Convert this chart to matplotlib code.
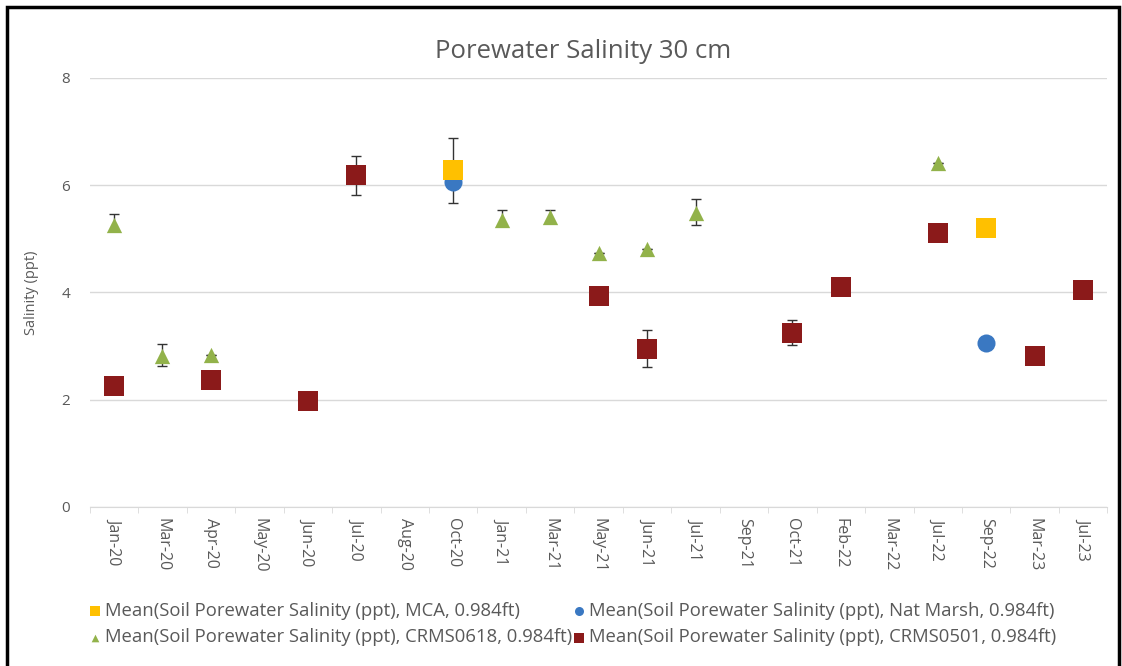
import matplotlib
matplotlib.use('Agg')
import numpy as np
import matplotlib.pyplot as plt
from matplotlib.patches import Rectangle

plt.rcParams['font.family'] = ['Open Sans', 'DejaVu Sans']

# Categories (x axis, treated as text)
months = ['Jan-20', 'Mar-20', 'Apr-20', 'May-20', 'Jun-20', 'Jul-20', 'Aug-20', 'Oct-20',
          'Jan-21', 'Mar-21', 'May-21', 'Jun-21', 'Jul-21', 'Sep-21', 'Oct-21', 'Feb-22',
          'Mar-22', 'Jul-22', 'Sep-22', 'Mar-23', 'Jul-23']

# Series values with error bar (low, high)
mca_months = ['Oct-20', 'Sep-22']
mca_vals = [6.29, 5.20]
mca_lo = [0.0, 0.0]
mca_hi = [0.59, 0.0]

nat_months = ['Oct-20', 'Sep-22']
nat_vals = [6.06, 3.06]
nat_lo = [0.39, 0.0]
nat_hi = [0.0, 0.0]

c618_months = ['Jan-20', 'Mar-20', 'Apr-20', 'Oct-20', 'Jan-21', 'Mar-21', 'May-21',
               'Jun-21', 'Jul-21', 'Jul-22']
c618_vals = [5.26, 2.82, 2.84, 6.2, 5.35, 5.41, 4.74, 4.80, 5.48, 6.42]
c618_lo = [0.1, 0.2, 0.0, 0.0, 0.1, 0.1, 0.0, 0.0, 0.22, 0.0]
c618_hi = [0.2, 0.22, 0.0, 0.0, 0.18, 0.12, 0.0, 0.0, 0.26, 0.0]

c501_months = ['Jan-20', 'Apr-20', 'Jun-20', 'Jul-20', 'May-21', 'Jun-21', 'Oct-21',
               'Feb-22', 'Jul-22', 'Mar-23', 'Jul-23']
c501_vals = [2.26, 2.37, 1.98, 6.18, 3.94, 2.95, 3.25, 4.10, 5.11, 2.82, 4.05]
c501_lo = [0.0, 0.0, 0.0, 0.36, 0.0, 0.34, 0.23, 0.0, 0.0, 0.0, 0.0]
c501_hi = [0.0, 0.0, 0.0, 0.37, 0.0, 0.35, 0.24, 0.0, 0.0, 0.0, 0.0]

labels = ['Mean(Soil Porewater Salinity (ppt), MCA, 0.984ft)',
          'Mean(Soil Porewater Salinity (ppt), Nat Marsh, 0.984ft)',
          'Mean(Soil Porewater Salinity (ppt), CRMS0618, 0.984ft)',
          'Mean(Soil Porewater Salinity (ppt), CRMS0501, 0.984ft)']

gray = '#595959'
fig = plt.figure(figsize=(11.22, 6.66), dpi=100)
ax = fig.add_axes([0.080, 0.239, 0.907, 0.644])

pos = {m: i for i, m in enumerate(months)}

series = [
    (c501_months, c501_vals, c501_lo, c501_hi, 's', '#8B1A1A', 14, labels[3]),
    (c618_months, c618_vals, c618_lo, c618_hi, '^', '#92B24A', 11, labels[2]),
    (nat_months, nat_vals, nat_lo, nat_hi, 'o', '#3A78C2', 13, labels[1]),
    (mca_months, mca_vals, mca_lo, mca_hi, 's', '#FFC000', 14, labels[0]),
]
handles = {}
for ms, vals, lo, hi, mk, col, size, lab in series:
    x = [pos[m] for m in ms]
    ax.errorbar(x, vals, yerr=[lo, hi], fmt='none', ecolor='#333333', elinewidth=1,
                capsize=3.5, capthick=1, zorder=2)
    h = ax.scatter(x, vals, marker=mk, s=size ** 2, color=col, zorder=3, label=lab,
                   linewidths=0)
    handles[lab] = h

ax.set_xlim(-0.5, len(months) - 0.5)
ax.set_ylim(0, 8)
ax.set_yticks([0, 2, 4, 6, 8])
ax.set_xticks(range(len(months)))
ax.set_xticklabels(months, rotation=-90, fontsize=11.5, color=gray)
ax.set_xticks(np.arange(-0.5, len(months), 1), minor=True)
ax.tick_params(axis='x', which='major', length=0, pad=8)
ax.tick_params(axis='x', which='minor', length=4, color='#d9d9d9')
ax.tick_params(axis='y', length=0, labelsize=11, labelcolor=gray, pad=14)
ax.grid(axis='y', color='#d9d9d9', linewidth=1)
ax.set_axisbelow(True)
for s in ['top', 'right', 'left']:
    ax.spines[s].set_visible(False)
ax.spines['bottom'].set_color('#d9d9d9')
ax.set_ylabel('Salinity (ppt)', fontsize=10.5, color=gray, labelpad=16)

fig.text(0.52, 0.922, 'Porewater Salinity 30 cm', ha='center', va='center',
         fontsize=18.5, color=gray)

# legend fills column by column, so this order gives MCA / Nat Marsh on the first row
order = [labels[0], labels[2], labels[1], labels[3]]
leg = fig.legend([handles[l] for l in order], order, loc='upper left',
                 bbox_to_anchor=(0.074, 0.107), ncol=2, frameon=False, fontsize=13.3,
                 handlelength=0.5, handletextpad=0.3, columnspacing=0.1,
                 labelspacing=0.45, markerscale=0.5, borderaxespad=0)
for t in leg.get_texts():
    t.set_color(gray)

# outer frame
fig.patches.append(Rectangle((0.006, -0.05), 0.991, 1.04, transform=fig.transFigure,
                             fill=False, edgecolor='black', linewidth=2.5))

fig.savefig('out.png', dpi=100)
